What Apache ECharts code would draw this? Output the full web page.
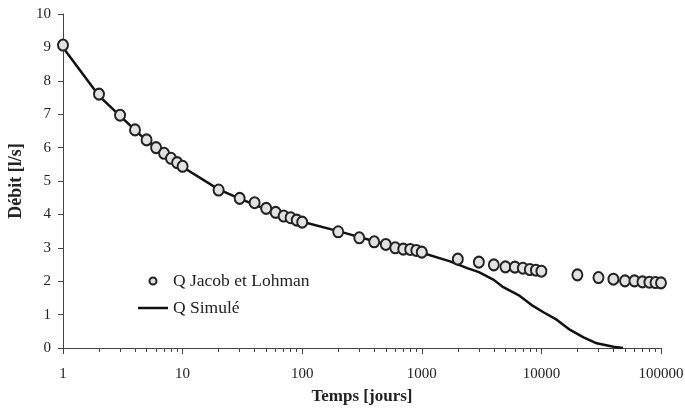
<!DOCTYPE html>
<html>
<head>
<meta charset="utf-8">
<script src="https://cdn.jsdelivr.net/npm/echarts@6/dist/echarts.min.js"></script>
<style>
html,body{margin:0;padding:0;background:#fff;}
#chart{width:685px;height:414px;}
</style>
</head>
<body>
<div id="chart"></div>
<script>
// Q Jacob et Lohman (points)
var jacobT = [1,2,3,4,5,6,7,8,9,10,20,30,40,50,60,70,80,90,100,200,300,400,500,600,700,800,900,1000,2000,3000,4000,5000,6000,7000,8000,9000,10000,20000,30000,40000,50000,60000,70000,80000,90000,100000];
var jacobQ = [9.07,7.6,6.97,6.53,6.23,6.0,5.83,5.68,5.55,5.44,4.73,4.48,4.35,4.18,4.06,3.95,3.9,3.83,3.77,3.48,3.3,3.18,3.1,3.0,2.96,2.95,2.92,2.87,2.66,2.57,2.49,2.43,2.42,2.39,2.35,2.33,2.3,2.19,2.11,2.06,2.01,2.01,1.98,1.97,1.96,1.95];
// Q Simulé (ligne)
var simT = [1,2,3,5,10,20,30,50,100,200,500,1000,1700,2400,3000,4000,4800,6600,8500,10400,13500,17400,22500,29000,40000,48000];
var simQ = [9.0,7.55,6.95,6.2,5.42,4.75,4.47,4.15,3.78,3.5,3.1,2.85,2.6,2.39,2.27,2.04,1.82,1.56,1.26,1.07,0.84,0.54,0.32,0.14,0.04,0];

var font = 'Liberation Serif';
var myChart = echarts.init(document.getElementById('chart'));

var option = {
	animation: false,
	textStyle: { fontFamily: font },
	grid: { left: 63, right: 24, top: 14, bottom: 66, containLabel: false, outerBoundsMode: 'none' },
	legend: {
		orient: 'vertical',
		left: 133,
		top: 267,
		itemWidth: 30,
		itemHeight: 7,
		itemGap: 9,
		textStyle: { fontFamily: font, fontSize: 17.5, color: '#222' },
		data: [
			{ name: 'Q Jacob et Lohman', icon: 'circle' },
			{ name: 'Q Simulé', icon: 'path://M0,0H30V2.5H0Z' }
		]
	},
	xAxis: {
		type: 'log',
		logBase: 10,
		min: 1,
		max: 100000,
		name: 'Temps [jours]',
		nameLocation: 'middle',
		nameGap: 40,
		nameTextStyle: { fontFamily: font, fontSize: 17, fontWeight: 'bold', color: '#222' },
		axisLine: { lineStyle: { color: '#444', width: 1 } },
		axisTick: { show: true, length: 6, lineStyle: { color: '#444' } },
		minorTick: { show: true, splitNumber: 9, length: 4, lineStyle: { color: '#444' } },
		axisLabel: { fontFamily: font, fontSize: 15, color: '#222', margin: 19, formatter: function (v) { return String(v); } },
		splitLine: { show: false }
	},
	yAxis: {
		type: 'value',
		min: 0,
		max: 10,
		interval: 1,
		name: 'Débit [l/s]',
		nameLocation: 'middle',
		nameGap: 35,
		nameTextStyle: { fontFamily: font, fontSize: 18, fontWeight: 'bold', color: '#222' },
		axisLine: { show: true, lineStyle: { color: '#444', width: 1 } },
		axisTick: { show: true, length: 5, lineStyle: { color: '#444' } },
		axisLabel: { fontFamily: font, fontSize: 15, color: '#222', margin: 12 },
		splitLine: { show: false }
	},
	series: [
		{
			name: 'Q Simulé',
			type: 'line',
			symbol: 'none',
			z: 2,
			lineStyle: { color: '#111', width: 2.5 },
			itemStyle: { color: '#111' },
			data: simT.map(function (t, i) { return [t, simQ[i]]; })
		},
		{
			name: 'Q Jacob et Lohman',
			type: 'scatter',
			symbol: 'circle',
			symbolSize: [10, 11],
			z: 3,
			itemStyle: { color: '#e2e2e2', borderColor: '#222', borderWidth: 2, opacity: 1 },
			data: jacobT.map(function (t, i) { return [t, jacobQ[i]]; })
		}
	]
};

myChart.setOption(option);
</script>
</body>
</html>
